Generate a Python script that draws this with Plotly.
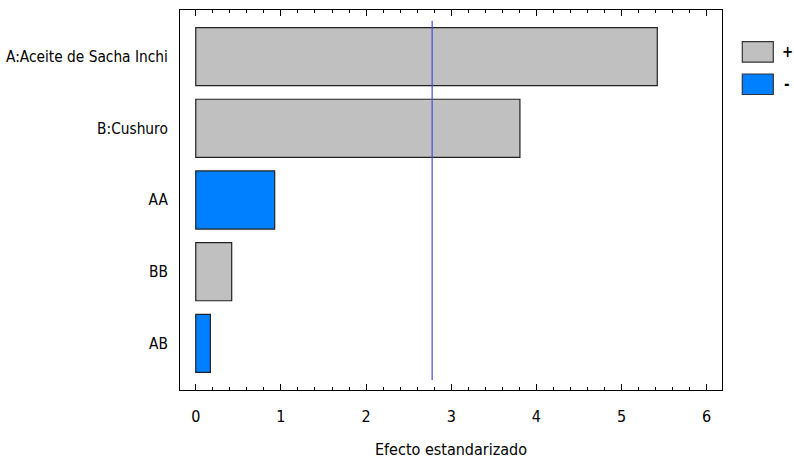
import plotly.graph_objects as go

categories = ["A:Aceite de Sacha Inchi", "B:Cushuro", "AA", "BB", "AB"]
effects = [5.42, 3.807, 0.927, 0.422, 0.172]
signs = ["+", "+", "-", "+", "-"]
critical_value = 2.776
x_ticks = [0, 1, 2, 3, 4, 5, 6]

GRAY = "#c0c0c0"
BLUE = "#0080ff"
FONT = "Liberation Sans Narrow, Arial Narrow, DejaVu Sans Condensed, sans-serif"

fig = go.Figure()
for sgn, col in [("+", GRAY), ("-", BLUE)]:
    xs = [e if s == sgn else None for e, s in zip(effects, signs)]
    fig.add_trace(go.Bar(
        y=categories, x=xs, orientation="h", name=sgn,
        marker=dict(color=col, line=dict(color="#222222", width=1.2)),
        width=0.81, showlegend=False,
    ))

fig.add_shape(type="line", xref="x", yref="paper",
              x0=critical_value, x1=critical_value, y0=0.026, y1=0.972,
              line=dict(color="#4848e8", width=1.2))

# legend (manual)
for i, (lab, col) in enumerate([("+", GRAY), ("-", BLUE)]):
    y_top = 1 - (31.7 + i * 32.3) / 380
    y_bot = y_top - 20.5 / 380
    fig.add_shape(type="rect", xref="paper", yref="paper",
                  x0=(742.3 - 180) / 542, x1=(773.3 - 180) / 542,
                  y0=y_bot, y1=y_top,
                  fillcolor=col, line=dict(color="#333333", width=1.2))
    fig.add_annotation(xref="paper", yref="paper", x=(787 - 180) / 542,
                       y=(y_top + y_bot) / 2, text="<b>" + lab + "</b>", showarrow=False,
                       xanchor="center", yanchor="middle",
                       font=dict(family=FONT, size=15, color="black"))

fig.update_layout(
    width=794, height=459,
    margin=dict(l=180, r=72, t=10, b=69),
    plot_bgcolor="white", paper_bgcolor="white",
    barmode="overlay",
    font=dict(family=FONT, size=16, color="black"),
    xaxis=dict(
        range=[-0.185, 6.18], tickvals=x_ticks, ticks="inside", ticklen=6,
        tickcolor="black", tickwidth=1, showgrid=False, zeroline=False,
        showline=True, linecolor="black", linewidth=1.2, mirror="ticks",
        minor=dict(dtick=0.2, ticks="inside", ticklen=3, tickcolor="black", showgrid=False),
        title=dict(text="Efecto estandarizado", font=dict(size=16), standoff=18),
        tickfont=dict(size=16), ticklabelstandoff=12, automargin=False,
    ),
    yaxis=dict(
        range=[4.65, -0.65], showgrid=False, zeroline=False,
        showline=True, linecolor="black", linewidth=1.2, mirror=True,
        ticks="", ticklabelstandoff=8, tickfont=dict(size=15.3), automargin=False,
    ),
)

fig.write_html("out.html", config={"displayModeBar": False},
               post_script="document.body.style.margin='0';")
